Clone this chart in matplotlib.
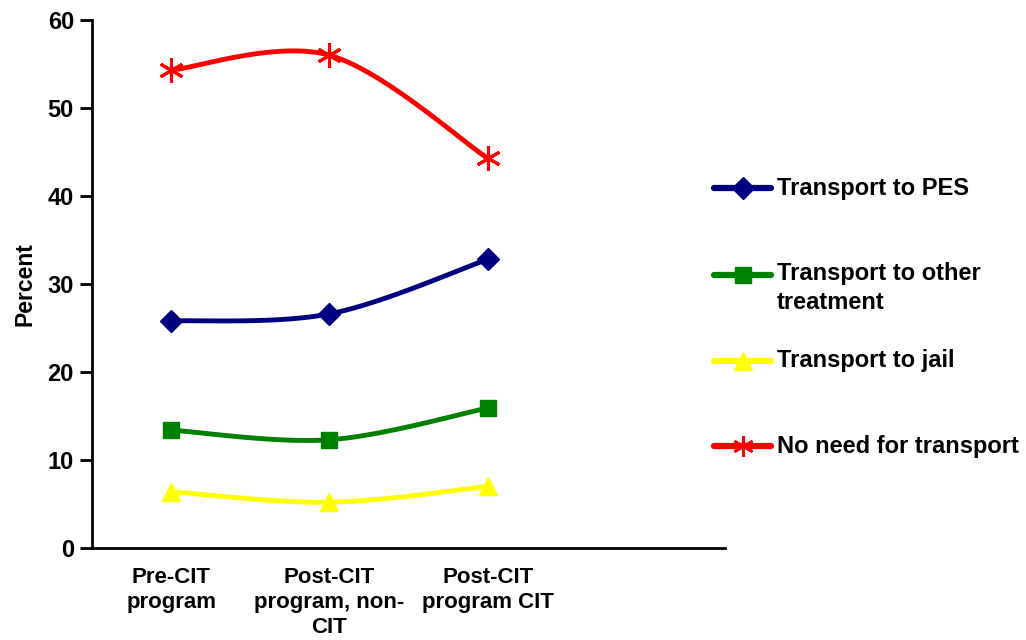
import numpy as np
import matplotlib
matplotlib.use("Agg")
import matplotlib.pyplot as plt
from matplotlib.lines import Line2D

categories = ["Pre-CIT\nprogram", "Post-CIT\nprogram, non-\nCIT", "Post-CIT\nprogram CIT"]
pes = [25.8, 26.6, 32.8]
other = [13.4, 12.3, 15.9]
jail = [6.4, 5.2, 7.0]
no_need = [54.3, 56.0, 44.3]
series_labels = ["Transport to PES", "Transport to other\ntreatment", "Transport to jail", "No need for transport"]

plt.rcParams['font.family'] = ['Liberation Sans', 'DejaVu Sans']
plt.rcParams['font.weight'] = 'bold'

def smooth(xs, ys, n=40):
    P = np.column_stack([xs, ys]).astype(float)
    m = len(P)
    out = [P[0]]
    for i in range(m - 1):
        p0 = P[i - 1] if i > 0 else P[i]
        p1 = P[i]
        p2 = P[i + 1]
        p3 = P[i + 2] if i + 2 < m else P[i + 1]
        c1 = p1 + (p2 - p0) / 6.0
        c2 = p2 - (p3 - p1) / 6.0
        t = np.linspace(0, 1, n)[1:, None]
        seg = ((1 - t) ** 3) * p1 + 3 * ((1 - t) ** 2) * t * c1 + 3 * (1 - t) * t ** 2 * c2 + t ** 3 * p2
        out.extend(seg)
    out = np.array(out)
    return out[:, 0], out[:, 1]

fig = plt.figure(figsize=(10.26, 6.4), dpi=100)
ax = fig.add_axes([92 / 1026, 92 / 640, (725 - 92) / 1026, (548 - 20) / 640])

x = np.arange(len(categories)) + 0.5
styles = [
    (pes, '#000080', 'D', 11, 'none'),
    (other, '#008000', 's', 12, 'none'),
    (jail, '#FFFF00', '^', 13, 'none'),
    (no_need, '#FF0000', '*', 0, 'star'),
]
for vals, col, mk, ms, kind in styles:
    sx, sy = smooth(x, vals)
    ax.plot(sx, sy, color=col, lw=3.5, solid_capstyle='round', zorder=2)
    if kind == 'star':
        ax.plot(x, vals, ls='none', marker=(6, 2, 0), markersize=18, markeredgewidth=2.2,
                color=col, zorder=3)
    else:
        ax.plot(x, vals, ls='none', marker=mk, markersize=ms, color=col, markeredgecolor=col, zorder=3)

ax.set_xlim(0, 4)
ax.set_ylim(0, 60)
ax.set_yticks(range(0, 61, 10))
ax.set_xticks(x)
ax.set_xticklabels(categories, fontsize=16, fontweight='bold', linespacing=1.25)
ax.tick_params(axis='x', length=0, pad=14)
ax.tick_params(axis='y', length=9, width=2, direction='out', labelsize=17, pad=4)
for lab in ax.get_yticklabels():
    lab.set_fontweight('bold')
for s in ['top', 'right']:
    ax.spines[s].set_visible(False)
for s in ['left', 'bottom']:
    ax.spines[s].set_linewidth(2)
ax.set_ylabel('Percent', fontsize=16.5, fontweight='bold', labelpad=8)

# legend drawn manually
leg_y = [188, 275, 361, 446]
for (vals, col, mk, ms, kind), lab, yy in zip(styles, series_labels, leg_y):
    yf = 1 - yy / 640
    x0, x1 = 714 / 1026, 771 / 1026
    fig.add_artist(Line2D([x0, x1], [yf, yf], color=col, lw=4.5, solid_capstyle='round'))
    xm = (x0 + x1) / 2
    if kind == 'star':
        fig.add_artist(Line2D([xm], [yf], ls='none', marker=(6, 2, 0), markersize=15,
                              markeredgewidth=2.0, color=col))
    else:
        fig.add_artist(Line2D([xm], [yf], ls='none', marker=mk, markersize=ms, color=col))
    if '\n' in lab:
        fig.text(777 / 1026, 1 - (yy - 13) / 640, lab, fontsize=17, fontweight='bold', va='top',
                 ha='left', linespacing=1.32)
    else:
        fig.text(777 / 1026, yf, lab, fontsize=17, fontweight='bold', va='center', ha='left')

fig.savefig('out.png', dpi=100)
